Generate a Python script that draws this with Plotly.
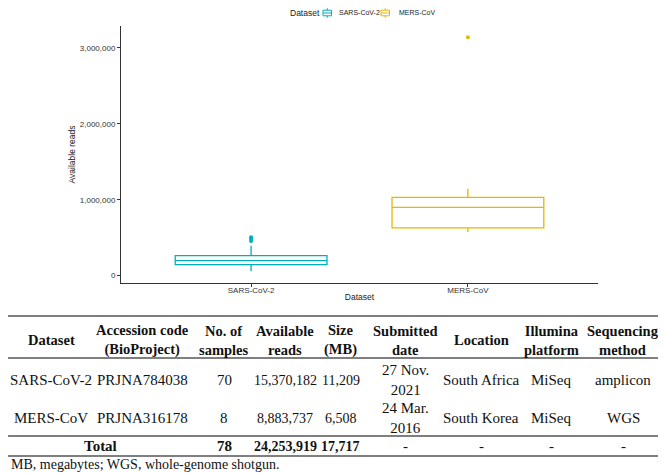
import plotly.graph_objects as go

# Box summaries (available reads per sample)
datasets = ["SARS-CoV-2", "MERS-CoV"]
colors = ["#00AFBB", "#E7B800"]
q1 = [145000, 628000]
median = [197000, 899000]
q3 = [263000, 1030000]
lower_fence = [57000, 575000]
upper_fence = [395000, 1145000]
outliers = [[505000, 485000, 455000], [3140000]]

# Table under the chart
table_header = [
    "Dataset",
    "Accession code<br>(BioProject)",
    "No. of<br>samples",
    "Available<br>reads",
    "Size<br>(MB)",
    "Submitted<br>date",
    "Location",
    "Illumina<br>platform",
    "Sequencing<br>method",
]
accession = ["PRJNA784038", "PRJNA316178"]
n_samples = [70, 8]
available_reads = [15370182, 8883737]
size_mb = [11209, 6508]
submitted = ["27 Nov.<br>2021", "24 Mar.<br>2016"]
location = ["South Africa", "South Korea"]
platform = ["MiSeq", "MiSeq"]
method = ["amplicon", "WGS"]
footnote = "MB, megabytes; WGS, whole-genome shotgun."

# page body has an 8px margin, so work in screen pixels and shift
OFF = 8
W, H = 666 - OFF, 473 - OFF


def px(x):
    return (x - OFF) / W


def py(y):
    return 1 - (y - OFF) / H


fig = go.Figure()

for i, name in enumerate(datasets):
    fig.add_trace(
        go.Box(
            x=[name],
            q1=[q1[i]],
            median=[median[i]],
            q3=[q3[i]],
            lowerfence=[lower_fence[i]],
            upperfence=[upper_fence[i]],
            name=name,
            width=0.7,
            boxpoints=False,
            line=dict(color=colors[i], width=1.3),
            fillcolor="rgba(255,255,255,0)",
            whiskerwidth=0,
            showlegend=False,
        )
    )
    fig.add_trace(
        go.Scatter(
            x=[name] * len(outliers[i]),
            y=outliers[i],
            mode="markers",
            marker=dict(color=colors[i], size=4),
            showlegend=False,
            hoverinfo="y",
        )
    )

sans = "Arial, Liberation Sans, sans-serif"
serif = "Liberation Serif, Times New Roman, serif"

annotations = []
shapes = []

# --- legend (ggplot style, drawn by hand) ---
LY = 13
annotations.append(dict(x=px(288), y=py(LY), text="Dataset", xanchor="left",
                        font=dict(family=sans, size=8.5, color="#222")))
legend_icon_x = [323, 381]
legend_text_x = [336.5, 396.5]
for i, name in enumerate(datasets):
    x0, x1 = px(legend_icon_x[i]), px(legend_icon_x[i] + 8.5)
    xm = (x0 + x1) / 2
    c = colors[i]
    shapes += [
        dict(type="rect", x0=x0, x1=x1, y0=py(LY - 2.8), y1=py(LY + 2.8), line=dict(color=c, width=1)),
        dict(type="line", x0=x0, x1=x1, y0=py(LY), y1=py(LY), line=dict(color=c, width=1)),
        dict(type="line", x0=xm, x1=xm, y0=py(LY - 4.8), y1=py(LY - 2.8), line=dict(color=c, width=1)),
        dict(type="line", x0=xm, x1=xm, y0=py(LY + 2.8), y1=py(LY + 4.8), line=dict(color=c, width=1)),
    ]
    annotations.append(dict(x=px(legend_text_x[i]), y=py(LY), text=name, xanchor="left",
                            font=dict(family=sans, size=7, color="#222")))

# --- table as text annotations + rules ---
col_x = [51, 142, 224, 285, 341, 405, 481, 551, 623]
header_y = 340
row_y = [380, 418]
total_y = 446
numeric_cols = {3, 4}

for cx, txt in zip(col_x, table_header):
    annotations.append(dict(x=px(cx), y=py(header_y), text="<b>" + txt + "</b>",
                            font=dict(family=serif, size=14.5, color="#111")))

for r in range(len(datasets)):
    cells = [
        datasets[r],
        accession[r],
        str(n_samples[r]),
        f"{available_reads[r]:,}",
        f"{size_mb[r]:,}",
        submitted[r],
        location[r],
        platform[r],
        method[r],
    ]
    for j, (cx, txt) in enumerate(zip(col_x, cells)):
        size = 14 if j in numeric_cols else 15
        annotations.append(dict(x=px(cx), y=py(row_y[r]), text=txt,
                                font=dict(family=serif, size=size, color="#111")))

total_cells = [
    "<b>" + str(sum(n_samples)) + "</b>",
    "<b>" + f"{sum(available_reads):,}" + "</b>",
    "<b>" + f"{sum(size_mb):,}" + "</b>",
    "-", "-", "-", "-",
]
annotations.append(dict(x=px(100), y=py(total_y), text="<b>Total</b>",
                        font=dict(family=serif, size=15, color="#111")))
for j, (cx, txt) in enumerate(zip(col_x[2:], total_cells), start=2):
    size = 14 if j in numeric_cols else 15
    annotations.append(dict(x=px(cx), y=py(total_y), text=txt,
                            font=dict(family=serif, size=size, color="#111")))

annotations.append(dict(x=px(8.5), y=py(464.5), text=footnote, xanchor="left",
                        font=dict(family=serif, size=14, color="#111")))

for a in annotations:
    a.update(xref="paper", yref="paper", showarrow=False)
    a.setdefault("xanchor", "center")
    a.setdefault("yanchor", "middle")

for s in shapes:
    s.update(xref="paper", yref="paper")

for yy in [316, 358, 436, 456]:
    shapes.append(dict(type="line", xref="paper", yref="paper", x0=0, x1=1,
                       y0=py(yy), y1=py(yy), line=dict(color="#555", width=1.5)))

axis_font = dict(family=sans, size=8, color="#333")

fig.update_layout(
    width=W,
    height=H,
    margin=dict(l=0, r=0, t=0, b=0),
    paper_bgcolor="white",
    plot_bgcolor="white",
    template="none",
    showlegend=False,
    xaxis=dict(
        domain=[px(121), px(598)],
        range=[-0.6, 1.6],
        showline=True, linecolor="#333", linewidth=1,
        ticks="outside", ticklen=3, tickcolor="#333",
        tickfont=axis_font,
        ticklabelstandoff=-4,
        showgrid=False, zeroline=False,
        title=dict(text="Dataset", font=dict(family=sans, size=8.5, color="#222"), standoff=0),
        automargin=False,
    ),
    yaxis=dict(
        domain=[py(283), py(26)],
        range=[-97000, 3287000],
        tickvals=[0, 1000000, 2000000, 3000000],
        tickformat=",",
        showline=True, linecolor="#333", linewidth=1,
        ticks="outside", ticklen=3, tickcolor="#333",
        tickfont=axis_font,
        showgrid=False, zeroline=False,
        title=dict(text="Available reads", font=dict(family=sans, size=8.5, color="#222"), standoff=2),
        automargin=False,
    ),
    annotations=annotations,
    shapes=shapes,
)

fig.write_html("out.html")
